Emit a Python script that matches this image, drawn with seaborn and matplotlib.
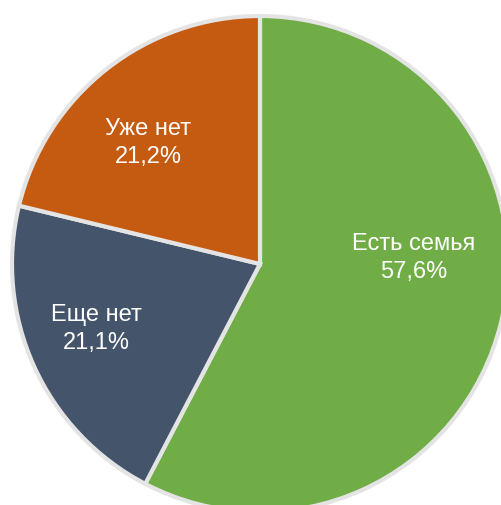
import matplotlib
matplotlib.use("Agg")
import matplotlib.pyplot as plt
import seaborn as sns

# Data
categories = ["Есть семья", "Еще нет", "Уже нет"]
shares = [57.6, 21.1, 21.2]
colors = ["#70AD47", "#44546A", "#C55A11"]

sns.set_theme(style="white")
plt.rcParams["font.family"] = ["Liberation Sans", "DejaVu Sans"]

fig = plt.figure(figsize=(5.01, 5.06), dpi=100)
ax = fig.add_axes([0, 0, 1, 1])

ax.pie(
    shares,
    colors=colors,
    startangle=90,
    counterclock=False,
    center=(260, 241),
    radius=248,
    wedgeprops=dict(edgecolor="#e4e4e4", linewidth=3),
    frame=True,
)

# label positions (pixels, y up)
label_pos = [(414, 248), (96, 177), (148, 363)]
for name, val, (x, y) in zip(categories, shares, label_pos):
    txt = f"{name}\n{val:.1f}%".replace(".", ",")
    ax.text(x, y, txt, ha="center", va="center", color="white",
            fontsize=17, linespacing=1.38)

ax.set_xlim(0, 501)
ax.set_ylim(0, 506)
ax.set_aspect("equal")
ax.axis("off")

fig.savefig("out.png", dpi=100)
